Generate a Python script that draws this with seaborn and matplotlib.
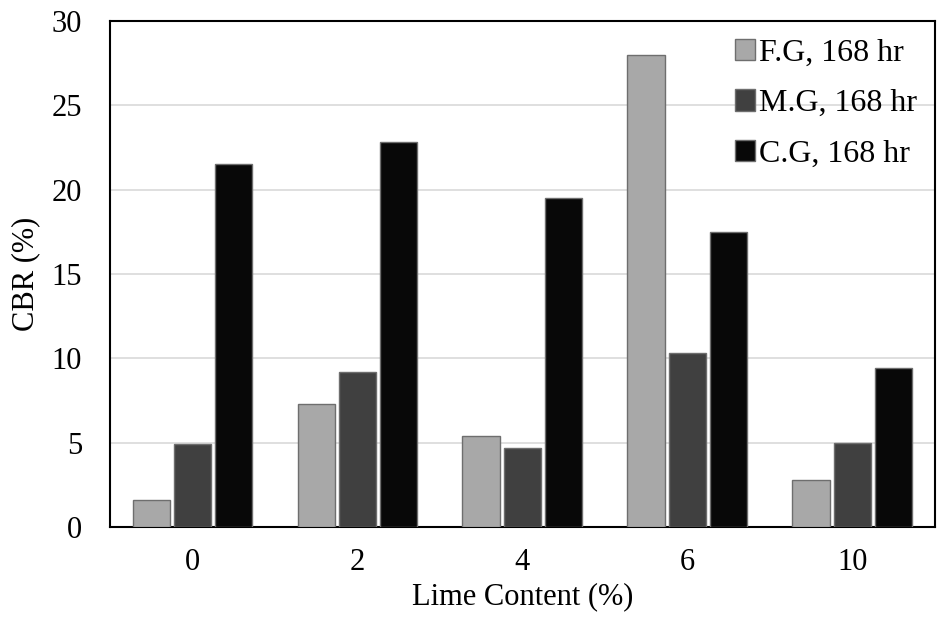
import numpy as np
import pandas as pd
import matplotlib.pyplot as plt
import seaborn as sns

lime = ["0", "2", "4", "6", "10"]
fg_168 = [1.6, 7.3, 5.4, 28.0, 2.8]
mg_168 = [4.9, 9.2, 4.7, 10.3, 5.0]
cg_168 = [21.5, 22.8, 19.5, 17.5, 9.4]

series_names = ["F.G, 168 hr", "M.G, 168 hr", "C.G, 168 hr"]
colors = ["#a8a8a8", "#404040", "#080808"]

df = pd.DataFrame({
    "Lime": lime * 3,
    "CBR": fg_168 + mg_168 + cg_168,
    "Series": [s for s in series_names for _ in lime],
})

sns.set_style("white")
plt.rcParams["font.family"] = ["Liberation Serif", "DejaVu Serif"]
plt.rcParams["text.color"] = "black"
plt.rcParams["xtick.color"] = "black"
plt.rcParams["ytick.color"] = "black"
plt.rcParams["axes.labelcolor"] = "black"

fig = plt.figure(figsize=(9.47, 6.17), dpi=100)
ax = fig.add_axes([0.116, 0.146, 0.871, 0.820])

sns.barplot(
    data=df,
    x="Lime",
    y="CBR",
    hue="Series",
    order=lime,
    hue_order=series_names,
    palette=colors,
    width=0.75,
    gap=0.1,
    edgecolor="#6e6e6e",
    linewidth=1,
    ax=ax,
    zorder=3
)

ax.set_ylim(0, 30)
ax.set_yticks(np.arange(0, 31, 5))
ax.yaxis.grid(True, color="#d9d9d9", linewidth=1.2, zorder=0)
ax.set_axisbelow(True)

for side in ["left", "bottom", "top", "right"]:
    ax.spines[side].set_visible(True)
    ax.spines[side].set_color("black")
    ax.spines[side].set_linewidth(1.5)

ax.tick_params(axis="y", length=0, labelsize=22, pad=20)
ax.tick_params(axis="x", length=0, labelsize=22, pad=15)
ax.set_xlabel("Lime Content (%)", fontsize=22, labelpad=4)
ax.set_ylabel("CBR (%)", fontsize=22, labelpad=8)

ax.legend(
    loc="upper right",
    bbox_to_anchor=(1.0, 1.0),
    frameon=False,
    fontsize=23,
    handlelength=0.65,
    handleheight=0.65,
    handletextpad=0.12,
    labelspacing=0.68,
    borderaxespad=0.15
)

plt.savefig("out.png", dpi=100)
